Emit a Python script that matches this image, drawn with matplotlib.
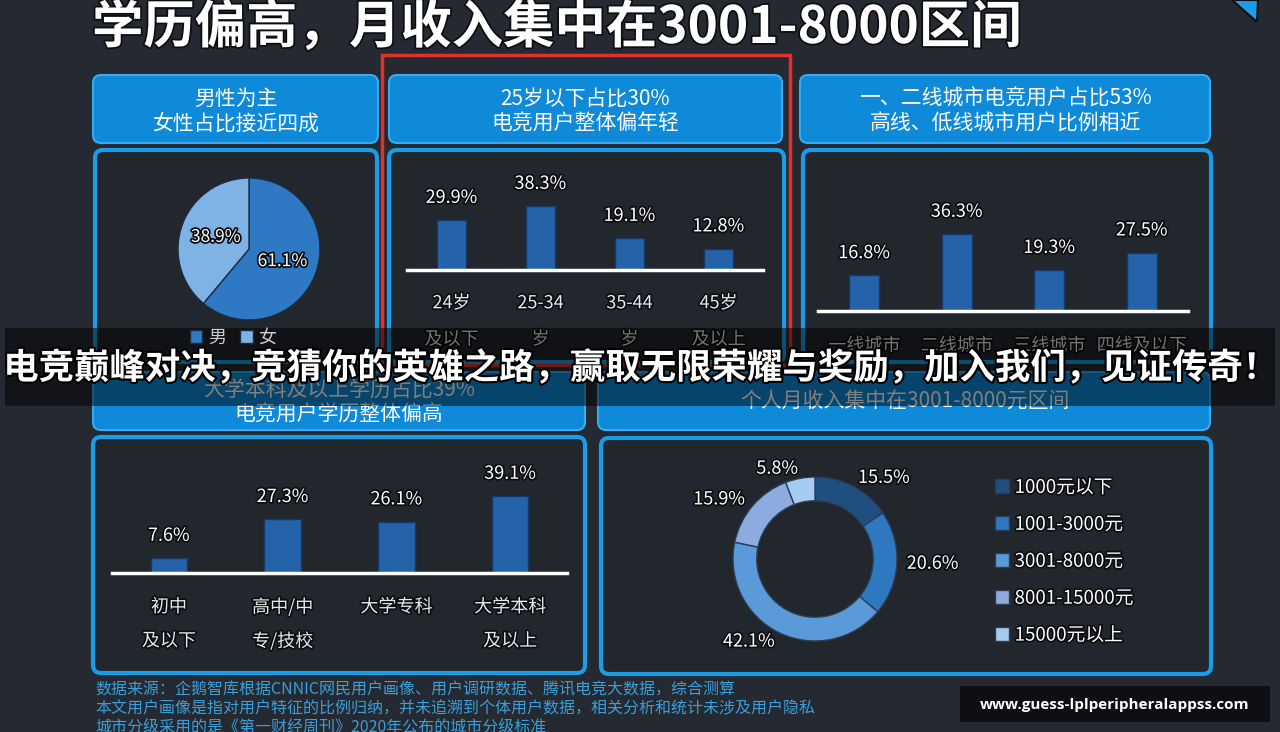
import matplotlib.pyplot as plt
import matplotlib.patheffects as pe
from matplotlib.patches import FancyBboxPatch, Rectangle, Polygon

plt.rcParams['font.family'] = ['Noto Sans CJK SC', 'DejaVu Sans']

gender_labels = ['男', '女']
gender_share = [61.1, 38.9]

age_line1 = ['24岁', '25-34', '35-44', '45岁']
age_line2 = ['及以下', '岁', '岁', '及以上']
age_share = [29.9, 38.3, 19.1, 12.8]

city_tiers = ['一线城市', '二线城市', '三线城市', '四线及以下']
city_share = [16.8, 36.3, 19.3, 27.5]

edu_line1 = ['初中', '高中/中', '大学专科', '大学本科']
edu_line2 = ['及以下', '专/技校', '', '及以上']
edu_share = [7.6, 27.3, 26.1, 39.1]

income_bands = ['1000元以下', '1001-3000元', '3001-8000元', '8001-15000元', '15000元以上']
income_share = [15.5, 20.6, 42.1, 15.9, 5.8]

W, H = 1280, 732
BG = '#252a32'
PANEL = '#22262d'
HEAD = '#0e8ad8'
EDGE = '#1a9ce6'
BAR = '#2462aa'
stroke = [pe.withStroke(linewidth=2.5, foreground='#0b0d11')]


def to_fig(x0, y0, x1, y1):
    return [x0 / W, 1 - y1 / H, (x1 - x0) / W, (y1 - y0) / H]


fig = plt.figure(figsize=(12.8, 7.32), dpi=100, facecolor=BG)

bg = fig.add_axes([0, 0, 1, 1])
bg.set_xlim(0, W)
bg.set_ylim(H, 0)
bg.axis('off')


def rbox(ax, x0, y0, x1, y1, fc, ec, lw, r=8, z=1):
    ax.add_patch(FancyBboxPatch((x0, y0), x1 - x0, y1 - y0,
                                boxstyle=f'round,pad=0,rounding_size={r}',
                                fc=fc, ec=ec, lw=lw, zorder=z))


# title
bg.text(92, 43, '学历偏高，月收入集中在3001-8000区间', color='white', fontsize=37,
        fontweight='bold', va='baseline', ha='left', path_effects=stroke)
bg.add_patch(Polygon([(1232, 0), (1258, 0), (1257, 22)], closed=True, fc='#1a9ce6',
                     ec='#0b0d11', lw=1.5))

# header boxes, row 1
heads1 = [(93, 378, '男性为主', '女性占比接近四成'),
          (389, 782, '25岁以下占比30%', '电竞用户整体偏年轻'),
          (800, 1210, '一、二线城市电竞用户占比53%', '高线、低线城市用户比例相近')]
for x0, x1, t1, t2 in heads1:
    rbox(bg, x0, 75, x1, 143, HEAD, '#3aaaf0', 1.5)
    bg.text((x0 + x1) / 2, 99, t1, color='white', fontsize=15, ha='center', va='center')
    bg.text((x0 + x1) / 2, 124, t2, color='white', fontsize=15, ha='center', va='center')

# content panels, row 1
for x0, x1 in [(95, 377), (389, 784), (803, 1211)]:
    rbox(bg, x0, 150, x1, 362, PANEL, EDGE, 3)

bg.add_patch(Rectangle((382, 55), 408, 310, fill=False, ec='#e3302a', lw=2.5, zorder=3))

# header boxes, row 2
rbox(bg, 93, 372, 585, 430, HEAD, '#3aaaf0', 1.5)
bg.text(339, 391, '大学本科及以上学历占比39%', color='white', fontsize=15, ha='center', va='center')
bg.text(339, 415, '电竞用户学历整体偏高', color='white', fontsize=15, ha='center', va='center')
rbox(bg, 598, 372, 1210, 430, HEAD, '#3aaaf0', 1.5)
bg.text(905, 402, '个人月收入集中在3001-8000元区间', color='white', fontsize=15, ha='center', va='center')

# content panels, row 2
rbox(bg, 93, 437, 585, 673, PANEL, EDGE, 3)
rbox(bg, 601, 438, 1211, 674, PANEL, EDGE, 3)

# footnotes
notes = ['数据来源：企鹅智库根据CNNIC网民用户画像、用户调研数据、腾讯电竞大数据，综合测算',
         '本文用户画像是指对用户特征的比例归纳，并未追溯到个体用户数据，相关分析和统计未涉及用户隐私',
         '城市分级采用的是《第一财经周刊》2020年公布的城市分级标准']
for k, s in enumerate(notes):
    bg.text(95, 690 + 18.5 * k, s, color='#3a9fd8', fontsize=11.5, ha='left', va='center')


def bar_panel(px, values, line1, line2, ymax, width, off1, off2):
    ax = fig.add_axes(to_fig(*px))
    ax.patch.set_visible(False)
    x = range(len(values))
    ax.bar(x, values, width=width, color=BAR, edgecolor='#163a64', linewidth=1, zorder=2)
    ax.axhline(0, color='white', lw=2.5, clip_on=False, zorder=3)
    ax.set_xlim(-0.5, len(values) - 0.5)
    ax.set_ylim(0, ymax)
    ax.axis('off')
    for i, v in enumerate(values):
        ax.annotate(f'{v}%', (i, v), xytext=(0, 16), textcoords='offset points',
                    ha='center', va='center', color='white', fontsize=13,
                    path_effects=stroke, annotation_clip=False)
        ax.annotate(line1[i], (i, 0), xytext=(0, -off1), textcoords='offset points',
                    ha='center', va='center', color='#e8e8e8', fontsize=13,
                    path_effects=stroke, annotation_clip=False)
        if line2 and line2[i]:
            ax.annotate(line2[i], (i, 0), xytext=(0, -off2), textcoords='offset points',
                        ha='center', va='center', color='#e8e8e8', fontsize=13,
                        path_effects=stroke, annotation_clip=False)
    return ax


bar_panel((407, 270 - 1.67 * 50, 763, 270), age_share, age_line1, age_line2, 50, 0.33, 24, 50)
bar_panel((818, 311 - 2.12 * 45, 1188, 311), city_share, city_tiers, None, 45, 0.32, 25, 0)
bar_panel((112, 573 - 1.97 * 50, 567, 573), edu_share, edu_line1, edu_line2, 50, 0.32, 24.5, 49)

# gender pie
cx, cy, r, half = 249, 249, 71, 74
axp = fig.add_axes(to_fig(cx - half, cy - half, cx + half, cy + half))
wg, _, auto = axp.pie(gender_share, colors=['#2f78c4', '#7fb2e5'], startangle=90,
                      counterclock=False, autopct='%.1f%%', pctdistance=0.5,
                      wedgeprops=dict(edgecolor='#1a2c42', linewidth=1),
                      textprops=dict(color='white', fontsize=12.5))
for t in auto:
    t.set_path_effects(stroke)
axp.set_xlim(-half / r, half / r)
axp.set_ylim(-half / r, half / r)
axp.set_aspect('equal')
fig.legend(wg, gender_labels, loc='center', bbox_to_anchor=(233 / W, 1 - 338 / H), ncol=2,
           frameon=False, fontsize=13, handlelength=0.7, handleheight=0.7,
           handletextpad=0.3, columnspacing=0.8, labelcolor='#c9ccd2')

# income donut
cx, cy, r, half = 815, 559, 82, 130
axd = fig.add_axes(to_fig(cx - half, cy - half, cx + half, cy + half))
wd, tx = axd.pie(income_share, labels=[f'{v}%' for v in income_share],
                 colors=['#1f4f80', '#2e78c0', '#5b9ad8', '#8eabdf', '#a6cbf0'],
                 startangle=90, counterclock=False, labeldistance=1.12,
                 wedgeprops=dict(width=0.29, edgecolor='#2c3d55', linewidth=1),
                 textprops=dict(color='white', fontsize=13))
for t in tx:
    t.set_path_effects(stroke)
axd.set_xlim(-half / r, half / r)
axd.set_ylim(-half / r, half / r)
axd.set_aspect('equal')
leg = fig.legend(wd, income_bands, loc='upper left', bbox_to_anchor=(978 / W, 1 - 460 / H),
                 frameon=False, fontsize=13.5, handlelength=0.75, handleheight=0.75,
                 handletextpad=0.3, labelspacing=0.85, labelcolor='white')
for t in leg.get_texts():
    t.set_path_effects(stroke)

# overlay: ad banner and watermark
top = fig.add_axes([0, 0, 1, 1])
top.patch.set_visible(False)
top.set_xlim(0, W)
top.set_ylim(H, 0)
top.axis('off')
top.add_patch(Rectangle((5, 328), 1270, 78, fc='black', alpha=0.5, lw=0))
top.text(640, 368, '电竞巅峰对决，竞猜你的英雄之路，赢取无限荣耀与奖励，加入我们，见证传奇！',
         color='white', fontsize=25.5, fontweight='bold', ha='center', va='center',
         path_effects=[pe.withStroke(linewidth=3, foreground='black')])
top.add_patch(Rectangle((960, 686), 310, 36, fc='#0e0f12', lw=0))
top.text(1115, 705, 'www.guess-lplperipheralappss.com', color='white', fontsize=11,
         fontweight='bold', family='Open Sans', ha='center', va='center')

fig.savefig('out.png', dpi=100, facecolor=BG)
